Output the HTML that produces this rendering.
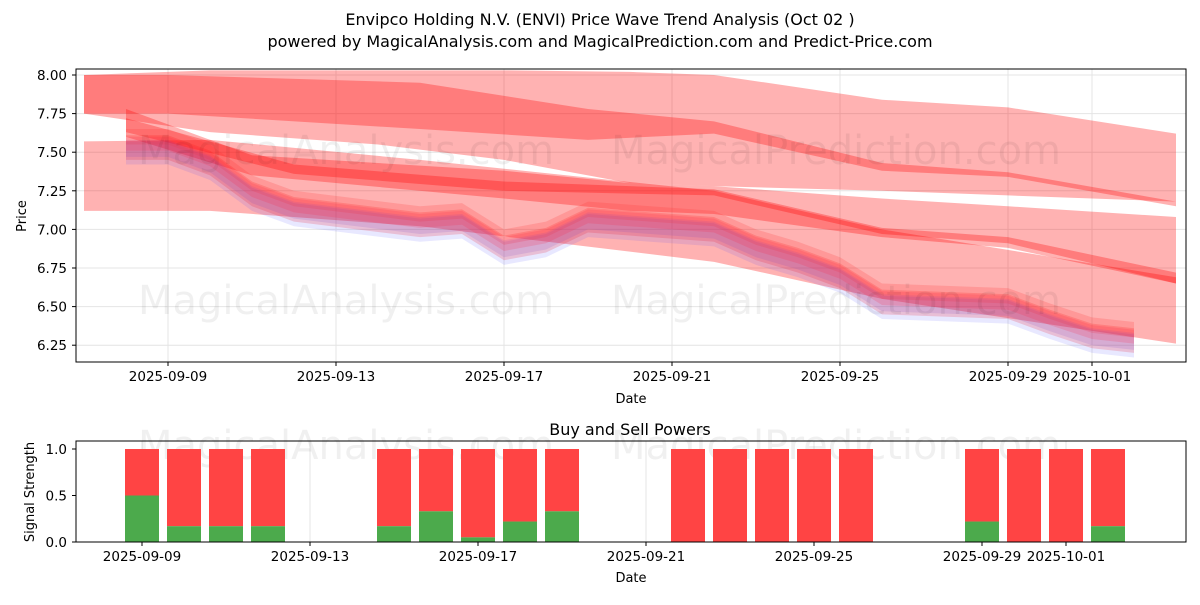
<!DOCTYPE html>
<html><head><meta charset="utf-8">
<style>
body{margin:0;background:#fff;font-family:"Liberation Sans","DejaVu Sans",sans-serif;}
svg text{font-family:"DejaVu Sans","Liberation Sans",sans-serif;}
</style></head>
<body>
<svg id="c" width="1200" height="600" xmlns="http://www.w3.org/2000/svg">
<text x="600" y="25" text-anchor="middle" font-size="16">Envipco Holding N.V. (ENVI) Price Wave Trend Analysis (Oct 02 )</text>
<text x="600" y="47" text-anchor="middle" font-size="16">powered by MagicalAnalysis.com and MagicalPrediction.com and Predict-Price.com</text>
<text x="630" y="435" text-anchor="middle" font-size="16">Buy and Sell Powers</text>
<g id="top"></g><g id="bot"></g>
</svg>
<script>
// ---- data ----
const priceDates=["2025-09-08","2025-09-09","2025-09-10","2025-09-11","2025-09-12","2025-09-15","2025-09-16","2025-09-17","2025-09-18","2025-09-19","2025-09-22","2025-09-23","2025-09-24","2025-09-25","2025-09-26","2025-09-29","2025-09-30","2025-10-01","2025-10-02"];
const priceValues=[7.55,7.55,7.45,7.25,7.15,7.05,7.07,6.90,6.95,7.08,7.02,6.90,6.82,6.72,6.55,6.52,6.42,6.33,6.30];
const bandDates=[
 ["2025-09-07","2025-09-10","2025-09-14","2025-09-17","2025-09-20","2025-09-22","2025-09-26","2025-09-29","2025-10-03"],
 ["2025-09-07","2025-09-09","2025-09-15","2025-09-19","2025-09-22","2025-09-26","2025-09-29","2025-10-03"],
 ["2025-09-08","2025-09-11","2025-09-17","2025-09-20","2025-09-22","2025-09-26","2025-09-29","2025-10-03"],
 ["2025-09-08","2025-09-12","2025-09-17","2025-09-22","2025-09-26","2025-09-29","2025-10-03"],
 ["2025-09-07","2025-09-10","2025-09-15","2025-09-22","2025-09-26","2025-10-03"]];
const bandUpper=[[8.00,8.03,8.03,8.03,8.02,8.00,7.84,7.79,7.62],[8.00,8.00,7.95,7.78,7.70,7.43,7.37,7.18],[7.78,7.48,7.38,7.30,7.28,7.20,7.15,7.08],[7.72,7.42,7.31,7.26,7.01,6.95,6.72],[7.57,7.58,7.45,7.25,7.00,6.69]];
const bandLower=[[7.75,7.63,7.55,7.45,7.30,7.28,7.25,7.22,7.18],[7.75,7.75,7.65,7.58,7.62,7.38,7.34,7.15],[7.60,7.35,7.20,7.12,7.10,6.95,6.88,6.65],[7.63,7.36,7.25,7.22,6.97,6.91,6.65],[7.12,7.12,7.02,6.79,6.55,6.26]];
const bandAlpha=[0.3,0.3,0.3,0.3,0.3];
const signalDates=["2025-09-09","2025-09-10","2025-09-11","2025-09-12","2025-09-15","2025-09-16","2025-09-17","2025-09-18","2025-09-19","2025-09-22","2025-09-23","2025-09-24","2025-09-25","2025-09-26","2025-09-29","2025-09-30","2025-10-01","2025-10-02"];
const buyPower=[0.5,0.17,0.17,0.17,0.17,0.33,0.05,0.22,0.33,0,0,0,0,0,0.22,0,0,0.17];
const xTickLabels=["2025-09-09","2025-09-13","2025-09-17","2025-09-21","2025-09-25","2025-09-29","2025-10-01"];
const yTickLabels=[6.25,6.50,6.75,7.00,7.25,7.50,7.75,8.00];
const sTickLabels=[0,0.5,1.0];
// ---- scales ----
const NS="http://www.w3.org/2000/svg";
const d0=Date.UTC(2025,8,9);
function day(s){const p=s.split("-");return (Date.UTC(+p[0],+p[1]-1,+p[2])-d0)/864e5;}
const X=s=>168+42*day(s);
const SX=s=>142+42*day(s);
const Y=v=>75+(8-v)/0.25*38.6;
const SY=v=>542-v*93;
function el(t,a,p){const e=document.createElementNS(NS,t);for(const k in a)e.setAttribute(k,a[k]);p.appendChild(e);return e;}
const gTop=document.getElementById("top"),gBot=document.getElementById("bot");
function frame(g,y0,y1,name){const r=el("rect",{x:76,y:y0,width:1110,height:y1-y0,fill:"none",stroke:"#000","stroke-width":1},g);
 
 }
xTickLabels.forEach(s=>{
 [[X(s),69,362,"x-tick-label",gTop],[SX(s),441,542,"signal-x-tick-label",gBot]].forEach(([x,y0,yy,n,g])=>{
  el("line",{x1:x,x2:x,y1:y0,y2:yy,stroke:"#e4e4e4"},g);
  el("line",{x1:x,x2:x,y1:yy,y2:yy+4,stroke:"#000"},g);
  const t=el("text",{x:x,y:yy+19,"text-anchor":"middle","font-size":13.5},g);t.textContent=s;
  
  
 });
});
yTickLabels.forEach(v=>{
 const y=Y(v);
 el("line",{x1:76,x2:1186,y1:y,y2:y,stroke:"#e4e4e4"},gTop);
 el("line",{x1:72,x2:76,y1:y,y2:y,stroke:"#000"},gTop);
 const t=el("text",{x:67,y:y+5,"text-anchor":"end","font-size":13.5},gTop);t.textContent=v.toFixed(2);
 
 
});
sTickLabels.forEach(v=>{
 const y=SY(v);
 el("line",{x1:72,x2:76,y1:y,y2:y,stroke:"#000"},gBot);
 const t=el("text",{x:67,y:y+5,"text-anchor":"end","font-size":13.5},gBot);t.textContent=v.toFixed(1);
 
 
});
bandDates.forEach((ds,i)=>{
 const pts=ds.map((d,j)=>X(d)+","+Y(bandUpper[i][j])).concat(ds.map((d,j)=>X(d)+","+Y(bandLower[i][j])).reverse());
 const p=el("polygon",{points:pts.join(" "),fill:"#ff0000","fill-opacity":bandAlpha[i]},gTop);
 
 
});
const waves=[[0.06,-0.10,"#ff0000",0.18],[0.03,-0.13,"#4040ff",0.12],[0.10,0.0,"#ff3030",0.2],[0.02,-0.08,"#7040c0",0.15],[0.05,-0.04,"#ff2040",0.18]];
waves.forEach(([u,l,c,a])=>{
 const pts=priceDates.map((d,j)=>X(d)+","+Y(priceValues[j]+u)).concat(priceDates.map((d,j)=>X(d)+","+Y(priceValues[j]+l)).reverse());
 const p=el("polygon",{points:pts.join(" "),fill:c,"fill-opacity":a},gTop);
 
 
});
[[346,150],[836,150],[346,300],[836,300],[346,445],[836,445]].forEach(([x,y],i)=>{
 const t=el("text",{x:x,y:y+14,"text-anchor":"middle","font-size":40,fill:"#000","fill-opacity":0.06},i<4?gTop:gBot);
 t.textContent=i%2?"MagicalPrediction.com":"MagicalAnalysis.com";
 
 
});
frame(gTop,69,362,"price-axes");
let t=el("text",{x:631,y:403,"text-anchor":"middle","font-size":13},gTop);t.textContent="Date";

t=el("text",{x:26,y:216,"text-anchor":"middle","font-size":13,transform:"rotate(-90 26 216)"},gTop);t.textContent="Price";

signalDates.forEach((d,i)=>{
 const x=SX(d)-17;
 const r=el("rect",{x:x,y:SY(1),width:34,height:SY(buyPower[i])-SY(1),fill:"#ff4444"},gBot);
 
 const g=el("rect",{x:x,y:SY(buyPower[i]),width:34,height:SY(0)-SY(buyPower[i]),fill:"#4caa4c"},gBot);
 
});
frame(gBot,441,542,"signal-axes");
t=el("text",{x:631,y:582,"text-anchor":"middle","font-size":13},gBot);t.textContent="Date";

t=el("text",{x:34,y:492,"text-anchor":"middle","font-size":13,transform:"rotate(-90 34 492)"},gBot);t.textContent="Signal Strength";

</script>
</body></html>
